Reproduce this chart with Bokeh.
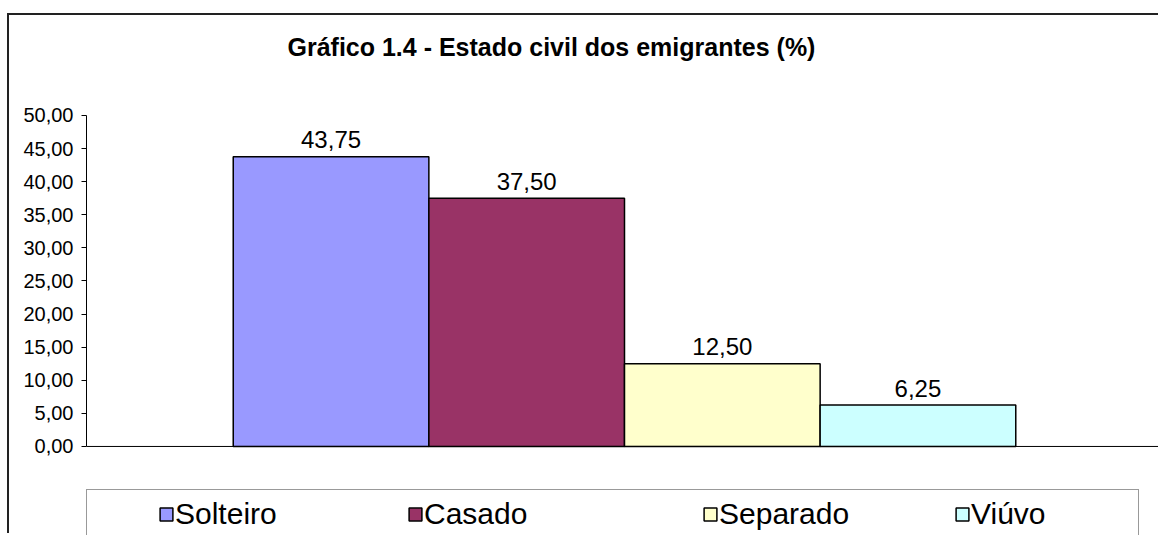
from bokeh.plotting import figure
from bokeh.models import (Range1d, FixedTicker, Span, Legend, LegendItem,
                          ColumnDataSource, Title)
from bokeh.embed import file_html
from bokeh.resources import INLINE
from bokeh.core.properties import value

# ---- data ----
categories = ["Solteiro", "Casado", "Separado", "Viúvo"]
values = [43.75, 37.50, 12.50, 6.25]
value_labels = ["43,75", "37,50", "12,50", "6,25"]
colors = ["#9999FF", "#993366", "#FFFFCC", "#CCFFFF"]
y_ticks = [0, 5, 10, 15, 20, 25, 30, 35, 40, 45, 50]
y_tick_labels = ["0,00", "5,00", "10,00", "15,00", "20,00", "25,00",
                 "30,00", "35,00", "40,00", "45,00", "50,00"]
title_text = "Gráfico 1.4 - Estado civil dos emigrantes (%)"

FONT = "Liberation Sans"

# Excel-style clustered layout: one category, 4 series, gap width 150%
gap = 1.5
n = len(categories)
bar_w = 1.0 / (n + gap)
xs = [0.5 + (i - (n - 1) / 2) * bar_w for i in range(n)]

W, H = 1151, 520
# frame spans below the axis (legend area) and above the 50 mark (plot-area margin);
# the value axis itself is bounded to 0..50
p = figure(width=W, height=H, output_backend="svg", toolbar_location=None,
           x_range=Range1d(0, 1074 / 1076), y_range=Range1d(-13.45, 56.34),
           x_axis_location=None,
           min_border_left=77, min_border_right=0, min_border_top=58,
           min_border_bottom=0)
p.styles = {"border-left": "2px solid #222", "border-top": "2px solid #222",
            "margin-top": "13px", "margin-left": "7px"}

heading = Title(text=title_text, text_font=FONT, text_font_size="25px",
                text_font_style="bold", text_color="black", align="left",
                offset=201, standoff=26)
p.add_layout(heading, "above")

src = ColumnDataSource(dict(x=xs, top=values, color=colors, cat=categories,
                            lab=value_labels))
bars = p.vbar(x="x", top="top", bottom=0, width=bar_w, fill_color="color",
              line_color="black", line_width=1.5, source=src)

p.text(x="x", y="top", text="lab", source=src, text_align="center",
       text_baseline="alphabetic", y_offset=-17, text_font=value(FONT),
       text_font_size="24px", text_color="black")

p.add_layout(Span(location=0, dimension="width", line_color="black", line_width=1))

p.grid.visible = False
p.outline_line_color = None

ya = p.yaxis[0]
ya.bounds = (0, 50)
ya.ticker = FixedTicker(ticks=y_ticks)
ya.major_label_overrides = dict(zip(y_ticks, y_tick_labels))
ya.major_tick_out = 5
ya.major_tick_in = 0
ya.minor_tick_out = 0
ya.minor_tick_in = 0
ya.axis_line_color = "black"
ya.major_tick_line_color = "black"
ya.major_label_standoff = 8
ya.major_label_text_font = FONT
ya.major_label_text_font_size = "20px"
ya.major_label_text_color = "black"

# legend frame (box only)
box = Legend(items=[LegendItem(label=" ", renderers=[])], location=(0, -16),
             padding=0, margin=0, glyph_width=1, glyph_height=1, label_standoff=0,
             label_width=1050, label_height=60, border_line_color="#333333",
             border_line_width=1, background_fill_color="white",
             background_fill_alpha=1.0, label_text_font_size="10px")
p.add_layout(box)

# individual legend entries
item_x = [72, 321, 616, 868]
for i, cat in enumerate(categories):
    lg = Legend(items=[LegendItem(label=cat, renderers=[bars], index=i)],
                location=(item_x[i], 4), padding=0, margin=0,
                glyph_width=16, glyph_height=16, label_standoff=1,
                label_height=32, border_line_color=None,
                background_fill_alpha=0.0, label_text_font=FONT,
                label_text_font_size="30px", label_text_color="black",
                label_text_baseline="middle")
    p.add_layout(lg)

open("out.html", "w").write(file_html(p, INLINE))
